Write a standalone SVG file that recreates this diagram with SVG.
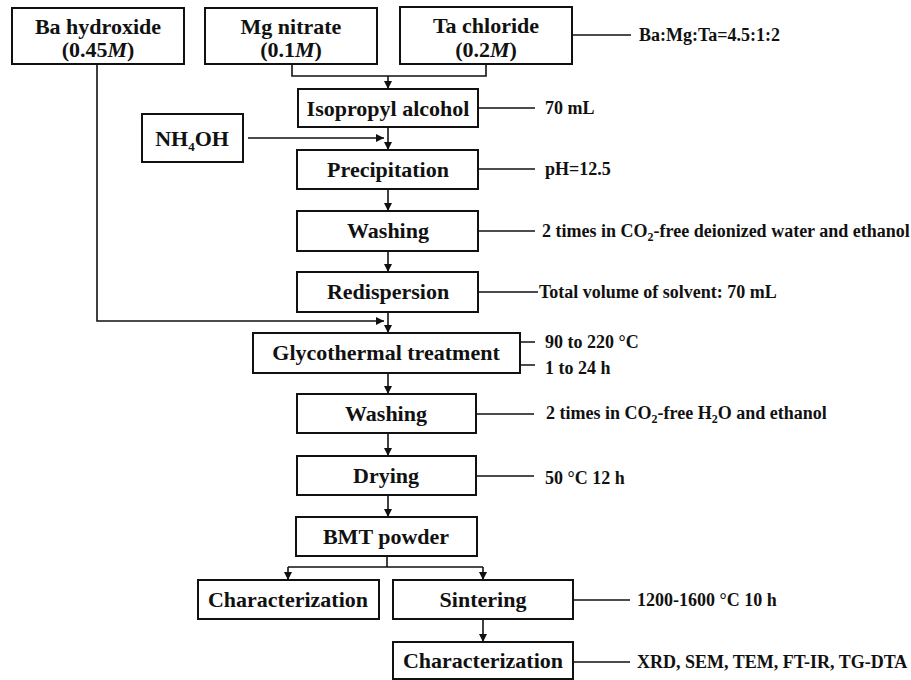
<svg xmlns="http://www.w3.org/2000/svg" width="911" height="680" viewBox="0 0 911 680">
<style>
.box{fill:#fff;stroke:#111;stroke-width:2}
.t{font-family:"Liberation Serif","Times New Roman",serif;font-weight:bold;font-size:22px;fill:#111;text-anchor:middle}
.s{font-family:"Liberation Serif","Times New Roman",serif;font-weight:bold;font-size:18px;fill:#111}
.ln{fill:none;stroke:#111;stroke-width:1.6}
.ar{fill:none;stroke:#111;stroke-width:1.6;marker-end:url(#ah)}
</style>
<defs>
<marker id="ah" markerUnits="userSpaceOnUse" markerWidth="9" markerHeight="9" refX="8" refY="4" orient="auto">
<path d="M0,0 L8,4 L0,8 z" fill="#111"/>
</marker>
</defs>
<rect width="911" height="680" fill="#fff"/>
<g id="connectors">
<path class="ln" d="M292 64 V76 H486 V64"/>
<path class="ar" d="M388 76 V89"/>
<path class="ln" d="M478 108 H535"/>
<path class="ln" d="M572 35 H631"/>
<path class="ar" d="M248 138 H384"/>
<path class="ar" d="M388 127 V150"/>
<path class="ln" d="M478 169 H535"/>
<path class="ar" d="M388 189 V211"/>
<path class="ln" d="M478 231 H535"/>
<path class="ar" d="M388 251 V272"/>
<path class="ln" d="M478 292 H538"/>
<path class="ar" d="M97 64 V321 H384"/>
<path class="ar" d="M388 312 V333"/>
<path class="ln" d="M520 342 H535 M520 365 H535"/>
<path class="ar" d="M388 373 V394"/>
<path class="ln" d="M476 414 H534"/>
<path class="ar" d="M388 433 V456"/>
<path class="ln" d="M476 476 H534"/>
<path class="ar" d="M388 495 V517"/>
<path class="ln" d="M387 556 V567 M288 567 H483"/>
<path class="ar" d="M288 567 V580"/>
<path class="ar" d="M483 567 V580"/>
<path class="ln" d="M573 600 H630"/>
<path class="ar" d="M483 619 V642"/>
<path class="ln" d="M573 662 H630"/>
</g>
<g id="ba">
<rect class="box" x="12" y="8" width="172" height="56"/>
<text class="t" x="98" y="34">Ba hydroxide</text>
<text class="t" x="98" y="57">(0.45<tspan font-style="italic">M</tspan>)</text>
</g>
<g id="mg">
<rect class="box" x="205" y="8" width="172" height="56"/>
<text class="t" x="291" y="34">Mg nitrate</text>
<text class="t" x="291" y="57">(0.1<tspan font-style="italic">M</tspan>)</text>
</g>
<g id="ta">
<rect class="box" x="400" y="7" width="172" height="57"/>
<text class="t" x="486" y="33">Ta chloride</text>
<text class="t" x="486" y="57">(0.2<tspan font-style="italic">M</tspan>)</text>
</g>
<g id="ratio"><text class="s" x="639" y="41">Ba:Mg:Ta=4.5:1:2</text></g>
<g id="ipa">
<rect class="box" x="298" y="89" width="180" height="38"/>
<text class="t" x="388" y="116">Isopropyl alcohol</text>
</g>
<g id="ipa-l"><text class="s" x="545" y="114">70 mL</text></g>
<g id="nh4oh">
<rect class="box" x="142" y="114" width="101" height="48"/>
<text class="t" x="192" y="146">NH<tspan dy="5" font-size="13">4</tspan><tspan dy="-5">OH</tspan></text>
</g>
<g id="prec">
<rect class="box" x="297" y="150" width="181" height="39"/>
<text class="t" x="388" y="177">Precipitation</text>
</g>
<g id="prec-l"><text class="s" x="545" y="175">pH=12.5</text></g>
<g id="wash1">
<rect class="box" x="297" y="211" width="181" height="40"/>
<text class="t" x="388" y="238">Washing</text>
</g>
<g id="wash1-l"><text class="s" x="542" y="237">2 times in CO<tspan dy="4" font-size="12">2</tspan><tspan dy="-4">-free deionized water and ethanol</tspan></text></g>
<g id="redisp">
<rect class="box" x="297" y="272" width="181" height="40"/>
<text class="t" x="388" y="299">Redispersion</text>
</g>
<g id="redisp-l"><text class="s" x="539" y="298">Total volume of solvent: 70 mL</text></g>
<g id="glyco">
<rect class="box" x="253" y="333" width="267" height="40"/>
<text class="t" x="386" y="360">Glycothermal treatment</text>
</g>
<g id="glyco-l">
<text class="s" x="545" y="348">90 to 220 °C</text>
<text class="s" x="545" y="374">1 to 24 h</text>
</g>
<g id="wash2">
<rect class="box" x="297" y="394" width="179" height="39"/>
<text class="t" x="386" y="421">Washing</text>
</g>
<g id="wash2-l"><text class="s" x="546" y="419">2 times in CO<tspan dy="4" font-size="12">2</tspan><tspan dy="-4">-free H</tspan><tspan dy="4" font-size="12">2</tspan><tspan dy="-4">O and ethanol</tspan></text></g>
<g id="dry">
<rect class="box" x="297" y="456" width="179" height="39"/>
<text class="t" x="386" y="483">Drying</text>
</g>
<g id="dry-l"><text class="s" x="545" y="484">50 °C 12 h</text></g>
<g id="bmt">
<rect class="box" x="296" y="517" width="181" height="39"/>
<text class="t" x="386" y="544">BMT powder</text>
</g>
<g id="char1">
<rect class="box" x="198" y="580" width="181" height="39"/>
<text class="t" x="288" y="607">Characterization</text>
</g>
<g id="sinter">
<rect class="box" x="393" y="580" width="180" height="39"/>
<text class="t" x="483" y="607">Sintering</text>
</g>
<g id="sinter-l"><text class="s" x="637" y="606">1200-1600 °C 10 h</text></g>
<g id="char2">
<rect class="box" x="393" y="642" width="180" height="37"/>
<text class="t" x="483" y="668">Characterization</text>
</g>
<g id="char2-l"><text class="s" x="637" y="668">XRD, SEM, TEM, FT-IR, TG-DTA</text></g>
</svg>
